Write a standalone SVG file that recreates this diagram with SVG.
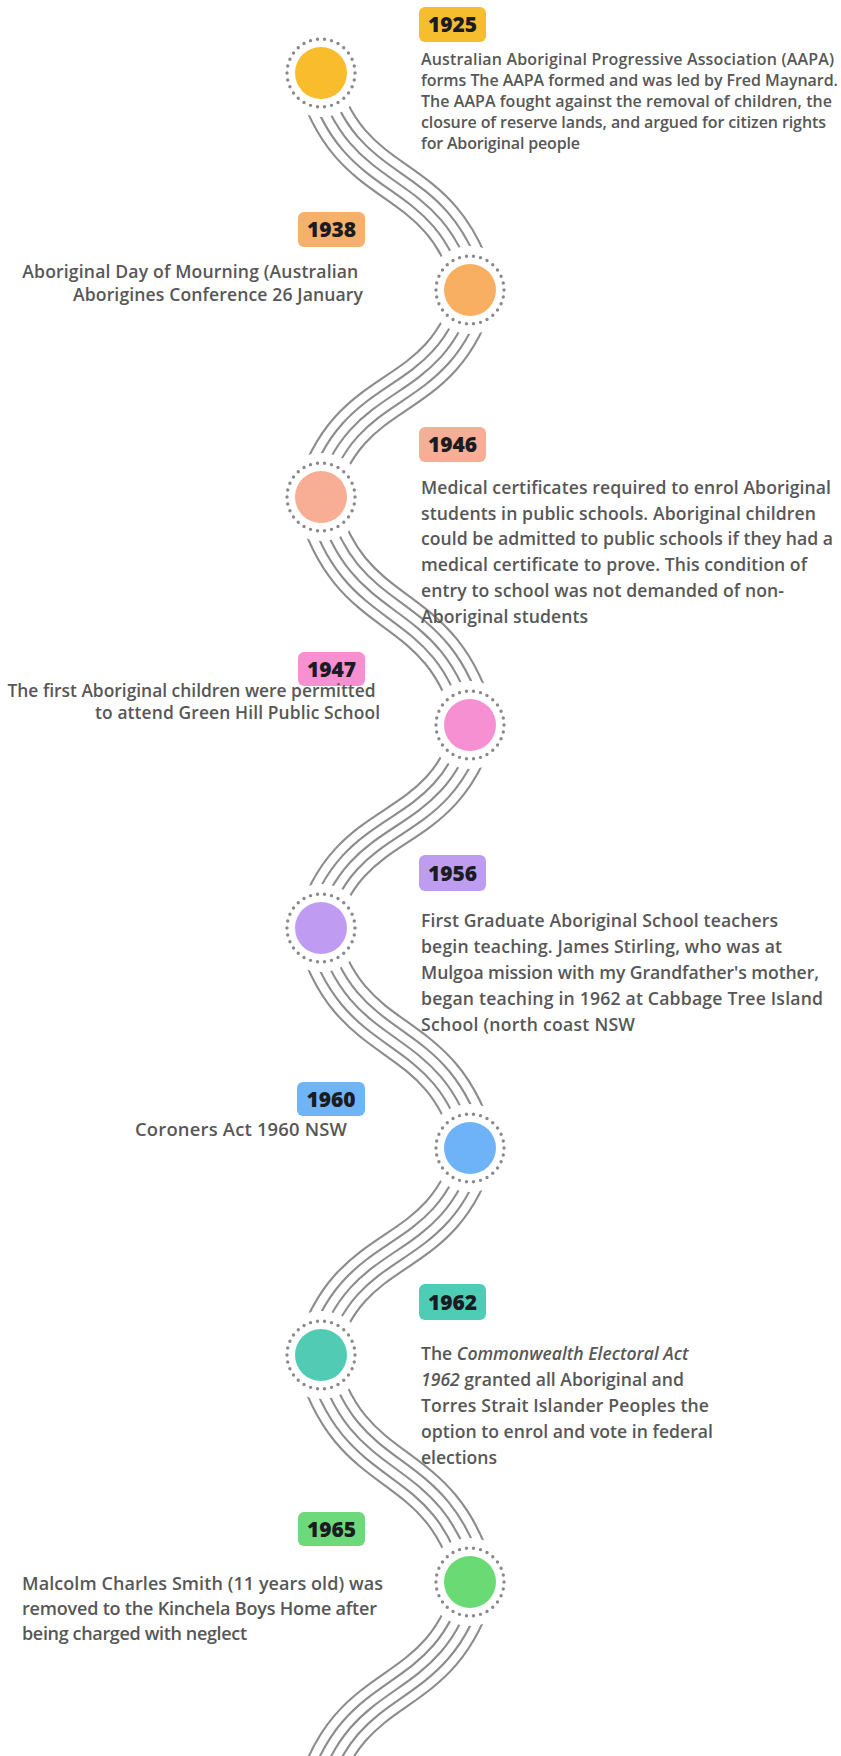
<svg xmlns="http://www.w3.org/2000/svg" xmlns:xlink="http://www.w3.org/1999/xlink" width="841" height="1756" viewBox="0 0 841 1756">
  <style>
    .txt { font-family: "Open Sans", "Noto Sans", sans-serif; font-weight: 600; fill: #575757; }
    .yr { font-family: "Open Sans", "Noto Sans", sans-serif; font-weight: 800; font-size: 21px; fill: #1b1b22; text-anchor: middle; }
    .halo { fill: #ffffff; }
    .ring { fill: none; stroke: #8a8a8a; stroke-width: 3.4; stroke-linecap: round; stroke-dasharray: 0 1; }
    /* a ribbon of five parallel stripes, built from nested strokes of one centre line */
    .s1, .s2, .s3, .s4, .s5 { fill: none; stroke-linecap: butt; }
    .s1 { stroke: #8c8c8c; stroke-width: 42.1; }
    .s2 { stroke: #ffffff; stroke-width: 37.9; }
    .s3 { stroke: #8c8c8c; stroke-width: 22.1; }
    .s4 { stroke: #ffffff; stroke-width: 17.9; }
    .s5 { stroke: #8c8c8c; stroke-width: 2.1; }
    .end { text-anchor: end; }
    .i { font-style: italic; }
  </style>
  <defs>
    <path id="c12" d="M315,73 C350,201.7 441,161.3 476,290"/>
    <path id="c23" d="M476,290 C441,412.7 350,374.3 315,497"/>
    <path id="c34" d="M315,497 C350,632.2 441,589.8 476,725"/>
    <path id="c45" d="M476,725 C441,845.4 350,807.6 315,928"/>
    <path id="c56" d="M315,928 C350,1058.5 441,1017.5 476,1148"/>
    <path id="c67" d="M476,1148 C441,1270.7 350,1232.3 315,1355"/>
    <path id="c78" d="M315,1355 C350,1489.6 441,1447.4 476,1582"/>
    <path id="c8x" d="M476,1582 C441,1710.1 350,1669.9 315,1798"/>
  </defs>
  <rect width="841" height="1756" fill="#ffffff"/>

  <g id="connectors">
    <g id="e1925-1938">
      <use xlink:href="#c12" class="s1"/><use xlink:href="#c12" class="s2"/><use xlink:href="#c12" class="s3"/><use xlink:href="#c12" class="s4"/><use xlink:href="#c12" class="s5"/>
    </g>
    <g id="e1938-1946">
      <use xlink:href="#c23" class="s1"/><use xlink:href="#c23" class="s2"/><use xlink:href="#c23" class="s3"/><use xlink:href="#c23" class="s4"/><use xlink:href="#c23" class="s5"/>
    </g>
    <g id="e1946-1947">
      <use xlink:href="#c34" class="s1"/><use xlink:href="#c34" class="s2"/><use xlink:href="#c34" class="s3"/><use xlink:href="#c34" class="s4"/><use xlink:href="#c34" class="s5"/>
    </g>
    <g id="e1947-1956">
      <use xlink:href="#c45" class="s1"/><use xlink:href="#c45" class="s2"/><use xlink:href="#c45" class="s3"/><use xlink:href="#c45" class="s4"/><use xlink:href="#c45" class="s5"/>
    </g>
    <g id="e1956-1960">
      <use xlink:href="#c56" class="s1"/><use xlink:href="#c56" class="s2"/><use xlink:href="#c56" class="s3"/><use xlink:href="#c56" class="s4"/><use xlink:href="#c56" class="s5"/>
    </g>
    <g id="e1960-1962">
      <use xlink:href="#c67" class="s1"/><use xlink:href="#c67" class="s2"/><use xlink:href="#c67" class="s3"/><use xlink:href="#c67" class="s4"/><use xlink:href="#c67" class="s5"/>
    </g>
    <g id="e1962-1965">
      <use xlink:href="#c78" class="s1"/><use xlink:href="#c78" class="s2"/><use xlink:href="#c78" class="s3"/><use xlink:href="#c78" class="s4"/><use xlink:href="#c78" class="s5"/>
    </g>
    <g id="e1965-tail">
      <use xlink:href="#c8x" class="s1"/><use xlink:href="#c8x" class="s2"/><use xlink:href="#c8x" class="s3"/><use xlink:href="#c8x" class="s4"/><use xlink:href="#c8x" class="s5"/>
    </g>
  </g>

  <g id="n1925">
    <circle class="halo" cx="321" cy="73" r="44"/>
    <circle class="ring" cx="321" cy="73" r="34" pathLength="30"/>
    <circle cx="321" cy="73" r="26" fill="#F8BC2C"/>
    <rect x="419" y="7" width="67" height="35" rx="6" fill="#F6BE2E"/>
    <text class="yr" x="452.5" y="32">1925</text>
    <text class="txt" font-size="16">
      <tspan x="421" y="65" textLength="413">Australian Aboriginal Progressive Association (AAPA)</tspan>
      <tspan x="421" y="86" textLength="417">forms The AAPA formed and was led by Fred Maynard.</tspan>
      <tspan x="421" y="107" textLength="411">The AAPA fought against the removal of children, the</tspan>
      <tspan x="421" y="128" textLength="405">closure of reserve lands, and argued for citizen rights</tspan>
      <tspan x="421" y="149" textLength="159">for Aboriginal people</tspan>
    </text>
  </g>

  <g id="n1938">
    <circle class="halo" cx="470" cy="290" r="44"/>
    <circle class="ring" cx="470" cy="290" r="34" pathLength="30"/>
    <circle cx="470" cy="290" r="26" fill="#F8AF62"/>
    <rect x="298" y="212" width="67" height="35" rx="6" fill="#F5B06C"/>
    <text class="yr" x="331.5" y="237">1938</text>
    <text class="txt end" font-size="17.6">
      <tspan x="363" y="278" textLength="336">Aboriginal Day of Mourning (Australian</tspan>
      <tspan x="363" y="301" textLength="290">Aborigines Conference 26 January</tspan>
    </text>
  </g>

  <g id="n1946">
    <circle class="halo" cx="321" cy="497" r="44"/>
    <circle class="ring" cx="321" cy="497" r="34" pathLength="30"/>
    <circle cx="321" cy="497" r="26" fill="#F7AE94"/>
    <rect x="419" y="427" width="67" height="35" rx="6" fill="#F6AE96"/>
    <text class="yr" x="452.5" y="452">1946</text>
    <text class="txt" font-size="17.6">
      <tspan x="421" y="494" textLength="410">Medical certificates required to enrol Aboriginal</tspan>
      <tspan x="421" y="519.7" textLength="395">students in public schools. Aboriginal children</tspan>
      <tspan x="421" y="545.4" textLength="412">could be admitted to public schools if they had a</tspan>
      <tspan x="421" y="571.1" textLength="386">medical certificate to prove. This condition of</tspan>
      <tspan x="421" y="596.8" textLength="363">entry to school was not demanded of non-</tspan>
      <tspan x="421" y="622.5" textLength="167">Aboriginal students</tspan>
    </text>
  </g>

  <g id="n1947">
    <circle class="halo" cx="470" cy="725" r="44"/>
    <circle class="ring" cx="470" cy="725" r="34" pathLength="30"/>
    <circle cx="470" cy="725" r="26" fill="#F790D2"/>
    <rect x="298" y="652" width="67" height="34" rx="6" fill="#F790D0"/>
    <text class="yr" x="331.5" y="676.5">1947</text>
    <text class="txt end" font-size="17.4">
      <tspan x="380" y="697" textLength="368">The first Aboriginal children were permitted</tspan>
      <tspan x="380" y="719" textLength="285">to attend Green Hill Public School</tspan>
    </text>
  </g>

  <g id="n1956">
    <circle class="halo" cx="321" cy="928" r="44"/>
    <circle class="ring" cx="321" cy="928" r="34" pathLength="30"/>
    <circle cx="321" cy="928" r="26" fill="#BF9BF2"/>
    <rect x="419" y="855" width="67" height="36" rx="6" fill="#BE9DF0"/>
    <text class="yr" x="452.5" y="880.5">1956</text>
    <text class="txt" font-size="17.6">
      <tspan x="421" y="926.5" textLength="357">First Graduate Aboriginal School teachers</tspan>
      <tspan x="421" y="952.5" textLength="361">begin teaching. James Stirling, who was at</tspan>
      <tspan x="421" y="978.5" textLength="398">Mulgoa mission with my Grandfather's mother,</tspan>
      <tspan x="421" y="1004.5" textLength="402">began teaching in 1962 at Cabbage Tree Island</tspan>
      <tspan x="421" y="1030.5" textLength="214">School (north coast NSW</tspan>
    </text>
  </g>

  <g id="n1960">
    <circle class="halo" cx="470" cy="1148" r="44"/>
    <circle class="ring" cx="470" cy="1148" r="34" pathLength="30"/>
    <circle cx="470" cy="1148" r="26" fill="#6EB3F8"/>
    <rect x="297" y="1082" width="68" height="34" rx="6" fill="#6FB4F5"/>
    <text class="yr" x="331" y="1106.5">1960</text>
    <text class="txt" font-size="18.4" x="135" y="1136" textLength="212">Coroners Act 1960 NSW</text>
  </g>

  <g id="n1962">
    <circle class="halo" cx="321" cy="1355" r="44"/>
    <circle class="ring" cx="321" cy="1355" r="34" pathLength="30"/>
    <circle cx="321" cy="1355" r="26" fill="#52CBB5"/>
    <rect x="419" y="1284" width="67" height="36" rx="6" fill="#4ECDB6"/>
    <text class="yr" x="452.5" y="1309.5">1962</text>
    <text class="txt" font-size="17.6">
      <tspan x="421" y="1360">The <tspan class="i">Commonwealth Electoral Act</tspan></tspan>
      <tspan x="421" y="1386"><tspan class="i">1962</tspan> granted all Aboriginal and</tspan>
      <tspan x="421" y="1412" textLength="288">Torres Strait Islander Peoples the</tspan>
      <tspan x="421" y="1438" textLength="292">option to enrol and vote in federal</tspan>
      <tspan x="421" y="1464" textLength="76">elections</tspan>
    </text>
  </g>

  <g id="n1965">
    <circle class="halo" cx="470" cy="1582" r="44"/>
    <circle class="ring" cx="470" cy="1582" r="34" pathLength="30"/>
    <circle cx="470" cy="1582" r="26" fill="#6ADB74"/>
    <rect x="298" y="1512" width="67" height="34" rx="6" fill="#6ED97A"/>
    <text class="yr" x="331.5" y="1536.5">1965</text>
    <text class="txt" font-size="18">
      <tspan x="22" y="1590" textLength="361">Malcolm Charles Smith (11 years old) was</tspan>
      <tspan x="22" y="1615" textLength="355">removed to the Kinchela Boys Home after</tspan>
      <tspan x="22" y="1640" textLength="225">being charged with neglect</tspan>
    </text>
  </g>
</svg>
